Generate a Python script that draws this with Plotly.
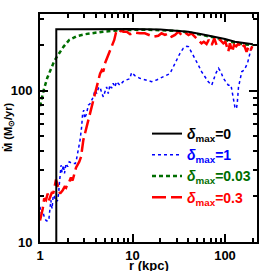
import plotly.graph_objects as go

# delta_max = 0 (black solid)
r_black = [1.5, 1.5, 2, 5, 10, 20, 30, 40, 56, 78, 100, 128, 160, 200]
m_black = [8, 255, 255, 256, 256, 254, 250, 246, 237, 228, 220, 211, 206, 203]

# delta_max = 1 (blue dotted)
r_blue = [1.0, 1.02, 1.07, 1.11, 1.16, 1.21, 1.25, 1.28, 1.31, 1.35, 1.39, 1.43, 1.49, 1.55, 1.59,
          1.62, 1.65, 1.69, 1.73, 1.79, 1.84, 1.91, 1.99, 2.07, 2.25, 2.41, 2.49, 2.6, 2.71, 2.82,
          2.89, 2.97, 3.04, 3.19, 3.33, 3.47, 3.6, 3.77, 3.93, 4.1, 4.28, 4.46, 4.66, 4.84, 5.04,
          5.25, 5.47, 5.7, 5.94, 6.19, 6.45, 6.72, 7.3, 7.9, 8.6, 9.3, 9.8, 10.6, 12, 14.2, 16.1,
          18.2, 21.5, 25.4, 27.6, 30, 32.6, 35.4, 38.5, 40.3, 43.4, 47.4, 51.5, 55.8, 60.6, 65.7,
          71.9, 74, 79.4, 85, 90, 96, 101, 108.6, 116, 123, 128, 133, 136, 140, 147, 152, 161,
          166, 175, 186, 194]
m_blue = [17.1, 15.5, 16, 14.7, 13.9, 13.7, 14.3, 16.6, 18.9, 16.6, 20.4, 20, 18.4, 18.9, 20.9,
          24.4, 29.8, 32.2, 28.9, 32.2, 28.4, 33, 31.5, 33.9, 33, 33, 35.6, 40.5, 47.2, 57.8,
          70.8, 74.5, 65.6, 70.8, 80.4, 82, 86.7, 91.2, 101, 96, 104, 106, 96, 91.2, 98.6,
          106, 96, 109, 104, 112, 106, 115, 109, 115, 118, 120, 132, 126, 121, 118, 115,
          118, 124, 130, 144, 160, 177, 191, 197, 196, 181, 164, 148, 134, 124, 115,
          109, 115, 130, 141, 134, 121, 115, 109, 109, 91, 78, 76, 84.5, 106, 121, 134, 137,
          144, 152, 177, 196]

# delta_max = 0.03 (green dashed)
r_green = [1.0, 1.05, 1.1, 1.2, 1.31, 1.43, 1.6, 1.8, 2.07, 2.5, 3.1, 4, 4.8, 6, 7.8, 10, 15,
           20, 30, 40, 56, 78, 100, 128, 160, 200]
m_green = [79, 90, 102, 122, 141, 158, 176, 196, 217, 230, 237, 243, 246, 249, 252, 253, 253,
           252, 249, 244, 235, 225, 217, 208, 203, 201]

# delta_max = 0.3 (red long-dashed)
r_red = [1.0, 1.07, 1.11, 1.16, 1.21, 1.25, 1.35, 1.39, 1.49, 1.55, 1.65, 1.76, 1.84, 1.91, 1.99,
         2.07, 2.16, 2.25, 2.39, 2.45, 2.66, 2.78, 2.94, 3.19, 3.47, 3.77, 4.1, 4.46, 4.66, 4.84,
         5.04, 5.39, 5.86, 6.35, 6.6, 7.1, 7.5, 7.95, 8.67, 9.4, 10.6, 12, 13.6, 14.8, 16.8, 19,
         20.6, 22.4, 24.4, 26.5, 28.8, 31.4, 33.9, 37, 40.3, 43.4, 47.4, 51.5, 55.8, 59, 63.2,
         66.7, 71.9, 76.6, 81, 88.5, 96, 101, 108.6, 113, 120, 125, 132, 140, 151, 161, 171,
         181, 190, 197]
m_red = [13.9, 16.6, 19.4, 18.9, 20.9, 18.9, 21.4, 20.9, 25.9, 23.7, 20.9, 22, 23.1, 22.8, 24.4,
         25, 26.7, 25.5, 29.5, 31, 34, 36.6, 47.2, 57.8, 70.8, 86.7, 106, 130, 137, 134,
         152, 168, 196, 217, 240, 235, 252, 246, 246, 237, 243, 240, 240, 234, 228, 231,
         240, 234, 240, 228, 234, 246, 234, 243, 234, 240, 228, 217, 206, 211, 204,
         217, 201, 222, 201, 217, 206, 211, 182, 206, 181, 201, 197, 206, 191, 201, 181,
         197, 186, 197]

FONT = "Liberation Sans, Arial, Helvetica, sans-serif"
X_TITLE = "<b>r (kpc)</b>"
Y_TITLE = "<b>Ṁ (M<sub>⊙</sub>/yr)</b>"
X_RANGE = [0, 2.346]
Y_RANGE = [1, 2.508]
W = H = 271
X_DOM = [40 / W, 257 / W]
Y_DOM = [(H - 242) / H, (H - 14) / H]


def lab(color, val):
    return ("<span style='color:%s'><b><i>δ</i><sub>max</sub>=%s</b></span>" % (color, val))


fig = go.Figure()
fig.add_trace(go.Scatter(x=r_black, y=m_black, mode="lines", name=lab("black", "0"),
                         line=dict(color="black", width=2), xaxis="x2", yaxis="y2"))
fig.add_trace(go.Scatter(x=r_blue, y=m_blue, mode="lines", name=lab("#0000ff", "1"),
                         line=dict(color="#0000ff", width=1.5, dash="dot")))
fig.add_trace(go.Scatter(x=r_green, y=m_green, mode="lines", name=lab("#006e00", "0.03"),
                         line=dict(color="#006e00", width=2.5, dash="4px,3px")))
fig.add_trace(go.Scatter(x=r_red, y=m_red, mode="lines", name=lab("#ff0000", "0.3"),
                         line=dict(color="#ff0000", width=2.5, dash="14px,5px")))

axis_common = dict(
    type="log", showline=True, linecolor="black", linewidth=2, mirror="allticks",
    ticks="inside", ticklen=8, tickwidth=1.5, tickcolor="black", showgrid=False,
    zeroline=False, dtick=1, showticklabels=False, automargin=False,
    minor=dict(ticks="inside", ticklen=4, tickwidth=1.5, tickcolor="black", dtick="D1",
               showgrid=False),
)
label_axis = dict(
    type="log", showline=False, showgrid=False, zeroline=False, dtick=1, automargin=False,
    ticks="outside", tickcolor="rgba(0,0,0,0)", tickwidth=0.1,
    tickfont=dict(family=FONT, size=13, color="black", weight="bold"),
)

fig.update_layout(
    xaxis=dict(**axis_common, range=X_RANGE, domain=X_DOM),
    yaxis=dict(**axis_common, range=Y_RANGE, domain=Y_DOM),
    xaxis2=dict(**label_axis, range=X_RANGE, domain=X_DOM, overlaying="x", anchor="y2",
                side="bottom", ticklen=1),
    yaxis2=dict(**label_axis, range=Y_RANGE, domain=Y_DOM, overlaying="y", anchor="x2",
                side="left", ticklen=4),
)

fig.add_annotation(text=X_TITLE, xref="paper", yref="paper", x=148.5 / W, y=(H - 265) / H,
                   xanchor="center", yanchor="middle", showarrow=False,
                   font=dict(family=FONT, size=13, color="black"))
fig.add_annotation(text=Y_TITLE, xref="paper", yref="paper", x=9 / W, y=(H - 127) / H,
                   xanchor="center", yanchor="middle", showarrow=False, textangle=-90,
                   font=dict(family=FONT, size=11, color="black"))

fig.update_layout(
    width=W, height=H,
    margin=dict(l=0, r=0, t=0, b=0, pad=0),
    paper_bgcolor="white", plot_bgcolor="white",
    font=dict(family=FONT, color="black"),
    legend=dict(x=147 / W, y=(H - 118) / H, xanchor="left", yanchor="top",
                bgcolor="rgba(0,0,0,0)", borderwidth=0,
                font=dict(family=FONT, size=14), itemwidth=30, tracegroupgap=0),
)

fig.write_html("out.html", config={"displayModeBar": False},
               post_script="document.body.style.margin='0px';")
